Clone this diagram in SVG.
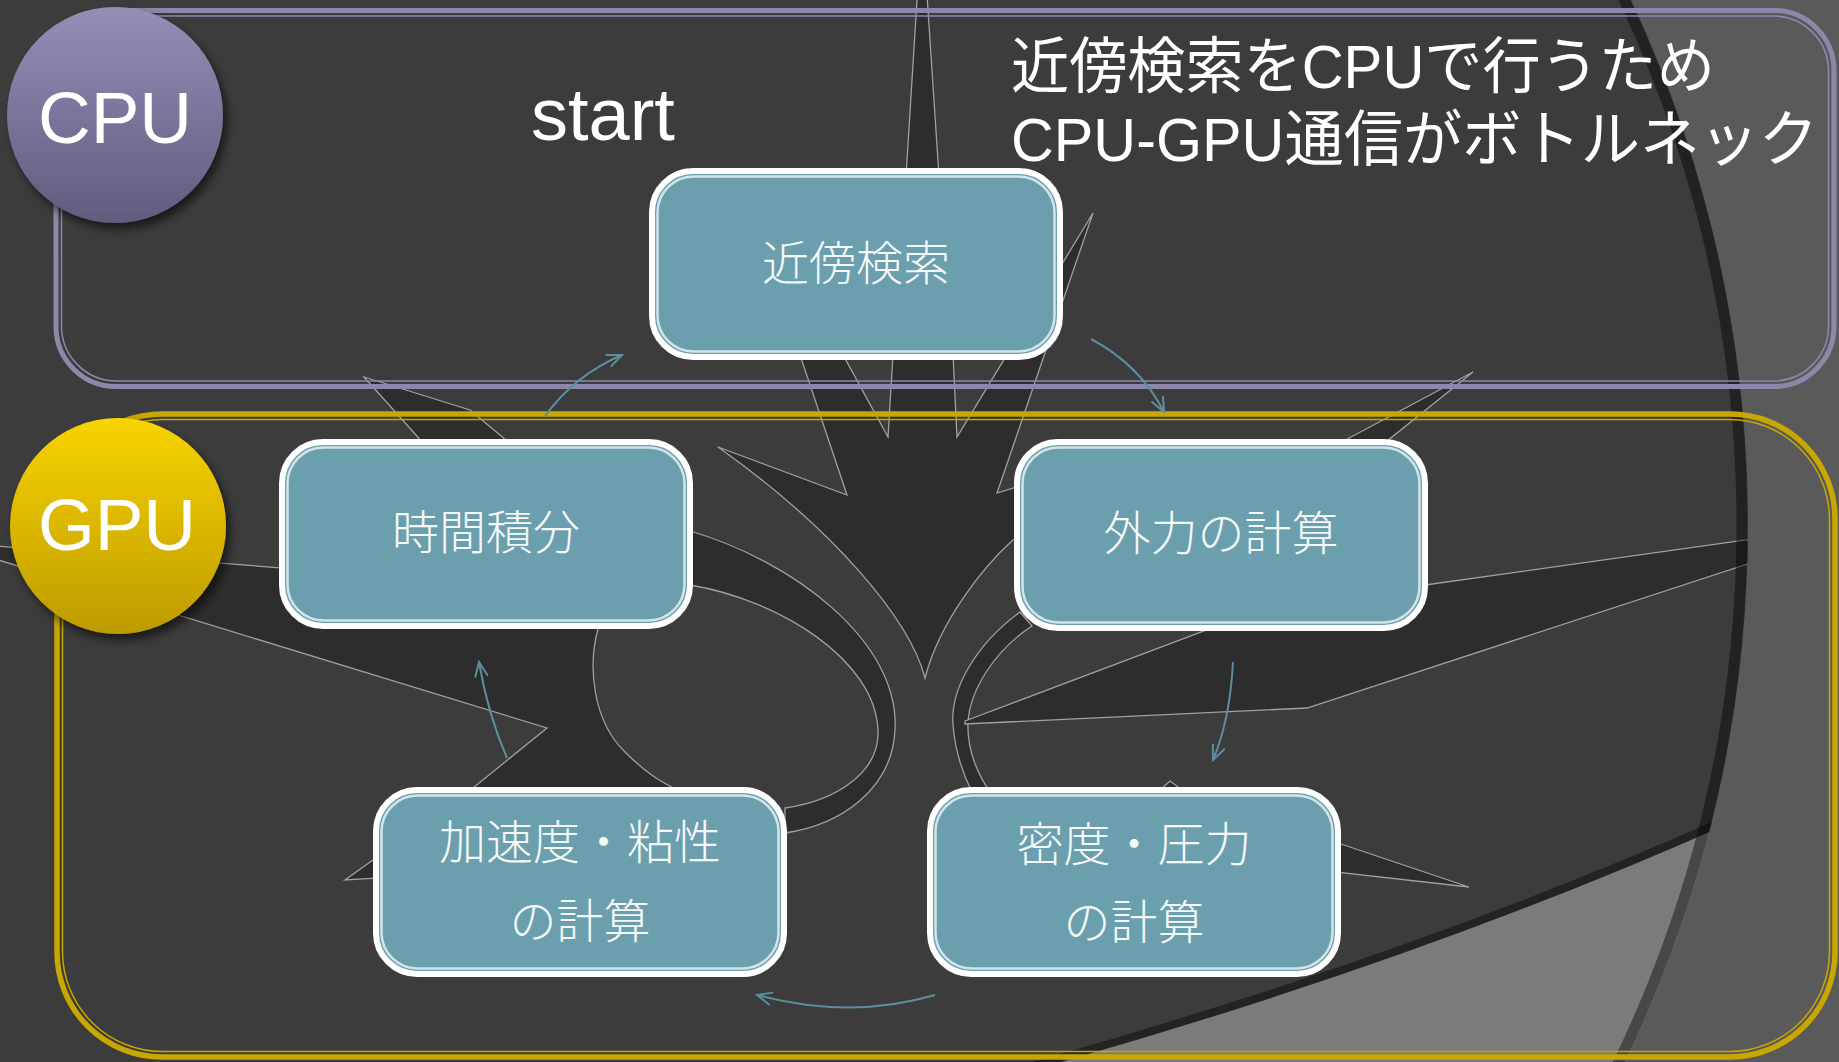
<svg xmlns="http://www.w3.org/2000/svg" width="1839" height="1062" viewBox="0 0 1839 1062">
  <defs>
    <style>
      .orn{fill:#2d2d2d;stroke:#a0a0a0;stroke-width:1.3;stroke-linejoin:miter}
      .box{fill:#6c9fae;stroke:#ffffff;stroke-width:6}
      .boxin{fill:none;stroke:#d2e4ea;stroke-width:2.5}
      .lbl{font-family:"Noto Sans CJK JP","Noto Sans CJK SC",sans-serif;font-size:47px;font-weight:300;fill:#f3f8f9;text-anchor:middle}
      .conn{fill:none;stroke:#5d8d9e;stroke-width:2;marker-end:url(#arr)}
      .cpuline{fill:none;stroke:#8d87aa}
      .gpuline{fill:none;stroke:#c8a700}
      .big{font-family:"Liberation Sans",Arial,sans-serif;fill:#ffffff}
      .title{font-family:"Liberation Sans","Noto Sans CJK JP","Noto Sans CJK SC",sans-serif;font-size:61px;fill:#ffffff}
    </style>
    <linearGradient id="gCpu" x1="0" y1="0" x2="0" y2="1">
      <stop offset="0" stop-color="#958eb7"/>
      <stop offset="1" stop-color="#625b7e"/>
    </linearGradient>
    <linearGradient id="gGpu" x1="0" y1="0" x2="0" y2="1">
      <stop offset="0" stop-color="#f8d400"/>
      <stop offset="1" stop-color="#bd9a00"/>
    </linearGradient>
    <filter id="sh" x="-20%" y="-20%" width="150%" height="150%">
      <feDropShadow dx="4" dy="6" stdDeviation="5" flood-color="#000" flood-opacity="0.6"/>
    </filter>
    <clipPath id="disc">
      <circle cx="510" cy="525" r="1238"/>
    </clipPath>
    <marker id="arr" viewBox="0 0 18 14" refX="16" refY="7" markerWidth="18" markerHeight="14" markerUnits="userSpaceOnUse" orient="auto">
      <path d="M1 0.5 L16 7 L1 13.5" fill="none" stroke="#5d8d9e" stroke-width="2"/>
    </marker>
  </defs>

  <!-- backdrop: lighter outer panel, dark disc, light wedge -->
  <g id="backdrop">
    <rect width="1839" height="1062" fill="#5a5a5a"/>
    <circle cx="510" cy="525" r="1238" fill="#3c3c3c"/>
    <g clip-path="url(#disc)">
      <path d="M1722 822 Q1400 965 1000 1075 L1839 1075 L1839 822 Z" fill="#7b7b7b"/>
      <path d="M1722 822 Q1400 965 1000 1075" fill="none" stroke="#232323" stroke-width="8"/>

      <!-- tree ornament -->
      <g id="ornament">
        <path class="orn" d="M922 -80 L939 176 L906 176 Z"/>
        <path class="orn" d="M718 447 L847 495 L800 355 L843 355 L888 437 L893 355 L953 355 L957 437 L1093 213 L997 493 L1017 487 L1035 500 L1035 530 L1013 540 C985 565 940 620 925 678 C910 620 835 530 718 447 Z"/>
        <path class="orn" d="M364 377 L470 410 L512 445 L425 445 Z"/>
        <path class="orn" d="M-5 546 L283 568 L290 600 L600 620 L598 629 C588 665 592 720 625 752 C645 772 660 782 682 792 L468 792 L547 728 L-5 559 Z"/>
        <path class="orn" d="M380 855 L345 880 L380 878 Z"/>
        <path class="orn" d="M690 531 C790 560 900 640 895 730 C892 790 840 825 785 833 L785 808 C840 800 880 770 878 730 C875 660 780 600 690 585 Z"/>
        <path class="orn" d="M1020 612 C975 645 950 690 953 725 C955 750 962 772 972 792 L990 792 C975 770 967 745 968 722 C970 690 995 650 1032 626 Z"/>
        <path class="orn" d="M965 721 L1220 625 L1425 585 L1760 538 L1760 560 L1307 708 L965 724 Z"/>
        <path class="orn" d="M1473 372 L1336 445 L1382 445 Z"/>
        <path class="orn" d="M1335 842 L1469 887 L1335 872 Z"/>
        <path class="orn" d="M1158 792 L1170 781 L1185 792 Z"/>
      </g>
    </g>
    <circle cx="510" cy="525" r="1232" fill="none" stroke="#000" stroke-opacity="0.42" stroke-width="11"/>
  </g>

  <!-- CPU region -->
  <g id="cpu-region">
    <rect class="cpuline" x="56" y="10.5" width="1778" height="376" rx="60" stroke-width="5"/>
    <rect class="cpuline" x="61.5" y="16" width="1767" height="365" rx="55" stroke-width="1.5"/>
  </g>

  <!-- GPU region -->
  <g id="gpu-region">
    <rect class="gpuline" x="57" y="414" width="1778" height="643" rx="105" stroke-width="5.5"/>
    <rect class="gpuline" x="62.5" y="419.5" width="1767" height="632" rx="100" stroke-width="1.5"/>
  </g>

  <g id="cpu-badge">
    <circle cx="115" cy="115" r="108" fill="url(#gCpu)" filter="url(#sh)"/>
    <text class="big" x="115" y="143" font-size="73" text-anchor="middle">CPU</text>
  </g>

  <g id="gpu-badge">
    <circle cx="118" cy="526" r="108" fill="url(#gGpu)" filter="url(#sh)"/>
    <text class="big" x="117" y="550" font-size="73" text-anchor="middle">GPU</text>
  </g>

  <g id="start-label">
    <text class="big" x="531" y="140" font-size="74">start</text>
  </g>

  <g id="note">
    <text class="title"><tspan x="1011" y="88" textLength="704" lengthAdjust="spacingAndGlyphs">近傍検索をCPUで行うため</tspan><tspan x="1011" y="161" textLength="807" lengthAdjust="spacingAndGlyphs">CPU-GPU通信がボトルネック</tspan></text>
  </g>

  <!-- cycle arrows -->
  <g id="connectors">
    <path class="conn" d="M545 416 Q575 375 622 355"/>
    <path class="conn" d="M1091 339 Q1140 365 1164 412"/>
    <path class="conn" d="M1233 662 Q1230 720 1213 760"/>
    <path class="conn" d="M935 995 Q850 1020 757 995"/>
    <path class="conn" d="M507 758 Q488 715 479 662"/>
  </g>

  <g id="node-neighbor-search">
    <rect class="box" x="652" y="171" width="408" height="186" rx="41"/>
    <rect class="boxin" x="657.5" y="176.5" width="397" height="175" rx="36"/>
    <text class="lbl" x="856" y="280">近傍検索</text>
  </g>

  <g id="node-time-integration">
    <rect class="box" x="282" y="442" width="408" height="184" rx="41"/>
    <rect class="boxin" x="287.5" y="447.5" width="397" height="173" rx="36"/>
    <text class="lbl" x="486" y="549">時間積分</text>
  </g>

  <g id="node-external-force">
    <rect class="box" x="1017" y="442" width="408" height="186" rx="41"/>
    <rect class="boxin" x="1022.5" y="447.5" width="397" height="175" rx="36"/>
    <text class="lbl" x="1221" y="550">外力の計算</text>
  </g>

  <g id="node-acceleration-viscosity">
    <rect class="box" x="376" y="790" width="408" height="184" rx="41"/>
    <rect class="boxin" x="381.5" y="795.5" width="397" height="173" rx="36"/>
    <text class="lbl" x="580" y="859"><tspan x="580" y="859">加速度・粘性</tspan><tspan x="580" y="938">の計算</tspan></text>
  </g>

  <g id="node-density-pressure">
    <rect class="box" x="930" y="790" width="408" height="184" rx="41"/>
    <rect class="boxin" x="935.5" y="795.5" width="397" height="173" rx="36"/>
    <text class="lbl" x="1134" y="861"><tspan x="1134" y="861">密度・圧力</tspan><tspan x="1134" y="939">の計算</tspan></text>
  </g>
</svg>
